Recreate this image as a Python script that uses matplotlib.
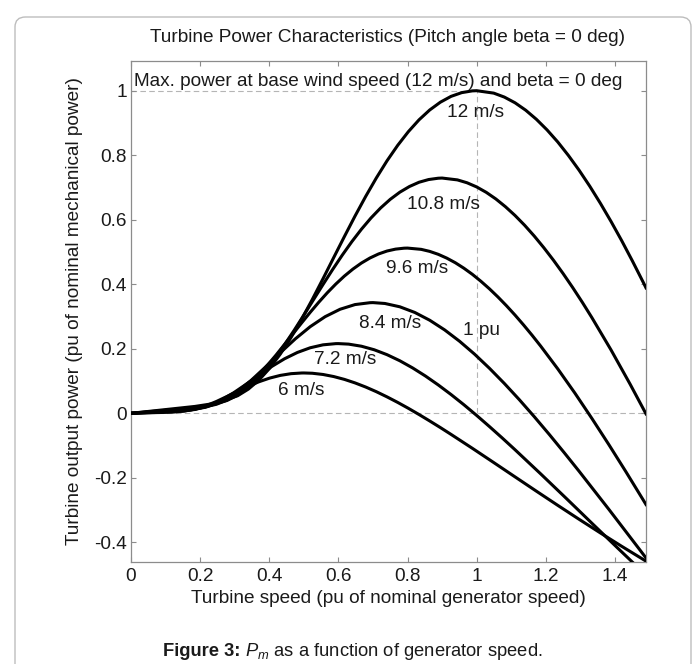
import matplotlib
matplotlib.use("Agg")
import matplotlib.pyplot as plt
from matplotlib.patches import FancyBboxPatch

plt.rcParams['font.family'] = ['Liberation Sans', 'DejaVu Sans']
plt.rcParams['axes.unicode_minus'] = False
plt.rcParams['mathtext.fontset'] = 'custom'
plt.rcParams['mathtext.rm'] = 'Liberation Sans'
plt.rcParams['mathtext.it'] = 'Liberation Sans:italic'
plt.rcParams['mathtext.bf'] = 'Liberation Sans:bold'

# ---- data (turbine speed in pu, output power in pu) ----
w_12 = [0, 0.0617, 0.1235, 0.1852, 0.2469, 0.3086, 0.3395, 0.3704, 0.4012, 0.4321,
        0.4630, 0.4938, 0.5247, 0.5556, 0.5864, 0.6173, 0.6481, 0.6790, 0.7099, 0.7407,
        0.7716, 0.8025, 0.8333, 0.8642, 0.8951, 0.9259, 0.9568, 0.9877, 1.0, 1.0494,
        1.0802, 1.1111, 1.1420, 1.1728, 1.2037, 1.2346, 1.2654, 1.2963, 1.3272, 1.3580,
        1.3889, 1.4198, 1.4506, 1.4815, 1.49]
p_12 = [0, 0.0071, 0.0142, 0.0213, 0.0314, 0.0544, 0.0749, 0.1032, 0.1396, 0.1838,
        0.2350, 0.2920, 0.3532, 0.4173, 0.4826, 0.5477, 0.6113, 0.6723, 0.7297, 0.7827,
        0.8306, 0.8731, 0.9097, 0.9402, 0.9644, 0.9824, 0.9940, 0.9995, 1.0, 0.9925,
        0.9802, 0.9625, 0.9395, 0.9114, 0.8785, 0.8412, 0.7994, 0.7537, 0.7041, 0.6510,
        0.5945, 0.5349, 0.4723, 0.4071, 0.3887]

w_108 = [0, 0.0556, 0.1111, 0.1667, 0.2222, 0.2778, 0.3056, 0.3333, 0.3611, 0.3889,
         0.4167, 0.4444, 0.4722, 0.5, 0.5278, 0.5556, 0.5833, 0.6111, 0.6389, 0.6667,
         0.6944, 0.7222, 0.75, 0.7778, 0.8056, 0.8333, 0.8611, 0.8889, 0.9, 0.9444,
         0.9722, 1.0, 1.0278, 1.0556, 1.0833, 1.1111, 1.1389, 1.1667, 1.1944, 1.2222,
         1.25, 1.2778, 1.3056, 1.3333, 1.3889, 1.4444, 1.49]
p_108 = [0, 0.0052, 0.0103, 0.0155, 0.0229, 0.0396, 0.0546, 0.0753, 0.1018, 0.1340,
         0.1713, 0.2129, 0.2575, 0.3042, 0.3518, 0.3993, 0.4456, 0.4901, 0.5320, 0.5706,
         0.6055, 0.6365, 0.6632, 0.6854, 0.7030, 0.7162, 0.7246, 0.7287, 0.7292, 0.7235,
         0.7146, 0.7017, 0.6849, 0.6644, 0.6404, 0.6132, 0.5828, 0.5494, 0.5133, 0.4746,
         0.4334, 0.3899, 0.3443, 0.2968, 0.1963, 0.0896, -0.0018]

w_96 = [0, 0.0494, 0.0988, 0.1481, 0.1975, 0.2469, 0.2716, 0.2963, 0.3210, 0.3457,
        0.3704, 0.3951, 0.4198, 0.4444, 0.4691, 0.4938, 0.5185, 0.5432, 0.5679, 0.5926,
        0.6173, 0.6420, 0.6667, 0.6914, 0.7160, 0.7407, 0.7654, 0.7901, 0.8, 0.8395,
        0.8642, 0.8889, 0.9136, 0.9383, 0.9630, 0.9877, 1.0123, 1.0370, 1.0617, 1.0864,
        1.1111, 1.1358, 1.1605, 1.1852, 1.2346, 1.2840, 1.3333, 1.3827, 1.4321, 1.4815,
        1.49]
p_96 = [0, 0.0036, 0.0073, 0.0109, 0.0161, 0.0278, 0.0383, 0.0529, 0.0715, 0.0941,
        0.1203, 0.1495, 0.1808, 0.2137, 0.2471, 0.2804, 0.3130, 0.3442, 0.3736, 0.4007,
        0.4253, 0.4470, 0.4658, 0.4814, 0.4938, 0.5030, 0.5089, 0.5118, 0.5121, 0.5082,
        0.5019, 0.4928, 0.4810, 0.4667, 0.4498, 0.4307, 0.4093, 0.3859, 0.3605, 0.3333,
        0.3044, 0.2738, 0.2418, 0.2084, 0.1379, 0.0630, -0.0157, -0.0974, -0.1816, -0.2679,
        -0.2829]

w_84 = [0, 0.0432, 0.0864, 0.1296, 0.1728, 0.2160, 0.2593, 0.3025, 0.3457, 0.3889,
        0.4321, 0.4753, 0.5185, 0.5617, 0.6049, 0.6481, 0.6914, 0.7, 0.7346, 0.7778,
        0.8210, 0.8642, 0.9074, 0.9506, 0.9938, 1.0370, 1.0802, 1.1235, 1.1667, 1.2099,
        1.2531, 1.2963, 1.3827, 1.4691, 1.49]
p_84 = [0, 0.0024, 0.0049, 0.0073, 0.0108, 0.0187, 0.0354, 0.0631, 0.1002, 0.1431,
        0.1879, 0.2306, 0.2685, 0.2995, 0.3225, 0.3370, 0.3428, 0.3431, 0.3404, 0.3301,
        0.3126, 0.2885, 0.2585, 0.2233, 0.1835, 0.1396, 0.0924, 0.0422, -0.0105, -0.0652,
        -0.1217, -0.1795, -0.2980, -0.4190, -0.4484]

w_72 = [0, 0.0370, 0.0741, 0.1111, 0.1481, 0.1852, 0.2222, 0.2593, 0.2963, 0.3333,
        0.3704, 0.4074, 0.4444, 0.4815, 0.5185, 0.5556, 0.5926, 0.6, 0.6296, 0.6667,
        0.7037, 0.7407, 0.7778, 0.8148, 0.8519, 0.8889, 0.9259, 0.9630, 1.0, 1.0370,
        1.0741, 1.1111, 1.1852, 1.2593, 1.3333, 1.4074, 1.4815, 1.49]
p_72 = [0, 0.0015, 0.0031, 0.0046, 0.0068, 0.0118, 0.0223, 0.0397, 0.0631, 0.0901,
        0.1183, 0.1452, 0.1691, 0.1886, 0.2031, 0.2122, 0.2159, 0.2160, 0.2144, 0.2079,
        0.1969, 0.1817, 0.1628, 0.1406, 0.1155, 0.0879, 0.0582, 0.0266, -0.0066, -0.0411,
        -0.0766, -0.1130, -0.1877, -0.2638, -0.3406, -0.4171, -0.4929, -0.5016]

w_6 = [0, 0.0309, 0.0617, 0.0926, 0.1235, 0.1543, 0.1852, 0.2160, 0.2469, 0.2778,
       0.3086, 0.3395, 0.3704, 0.4012, 0.4321, 0.4630, 0.4938, 0.5, 0.5247, 0.5556,
       0.5864, 0.6173, 0.6481, 0.6790, 0.7099, 0.7407, 0.7716, 0.8025, 0.8333, 0.8642,
       0.8951, 0.9259, 0.9877, 1.0494, 1.1111, 1.1728, 1.2346, 1.2963, 1.3580, 1.4198,
       1.4815, 1.49]
p_6 = [0, 0.0009, 0.0018, 0.0027, 0.0039, 0.0068, 0.0129, 0.0230, 0.0365, 0.0522,
       0.0685, 0.0840, 0.0978, 0.1091, 0.1175, 0.1228, 0.1249, 0.1250, 0.1241, 0.1203,
       0.1139, 0.1051, 0.0942, 0.0814, 0.0669, 0.0509, 0.0337, 0.0154, -0.0038, -0.0238,
       -0.0443, -0.0654, -0.1086, -0.1527, -0.1971, -0.2414, -0.2853, -0.3285, -0.3709, -0.4124,
       -0.4528, -0.4583]

curve_labels = ["12 m/s", "10.8 m/s", "9.6 m/s", "8.4 m/s", "7.2 m/s", "6 m/s"]
label_x = [0.997, 0.905, 0.827, 0.749, 0.620, 0.493]
label_y = [0.932, 0.648, 0.450, 0.279, 0.167, 0.072]

x_ticks = [0, 0.2, 0.4, 0.6, 0.8, 1.0, 1.2, 1.4]
x_ticklabels = ["0", "0.2", "0.4", "0.6", "0.8", "1", "1.2", "1.4"]
y_ticks = [-0.4, -0.2, 0, 0.2, 0.4, 0.6, 0.8, 1.0]
y_ticklabels = ["-0.4", "-0.2", "0", "0.2", "0.4", "0.6", "0.8", "1"]

W, H = 699, 664
fig = plt.figure(figsize=(W / 100, H / 100), dpi=100)
fig.patch.set_facecolor('white')

# rounded outer border (open at bottom)
border = FancyBboxPatch((15 / W, -0.05), (691 - 15) / W, (1 - 17 / H) + 0.05,
                        boxstyle="round,pad=0,rounding_size=0.015",
                        transform=fig.transFigure, fill=False,
                        edgecolor='#bdbdbd', linewidth=1.0)
fig.add_artist(border)

ax = fig.add_axes([131 / W, 1 - 562 / H, (646 - 131) / W, (562 - 60.7) / H])

txt = '#1a1a1a'
fs = 13.7
grey = '#b5b5b5'

# reference dashed lines
ax.plot([0, 1.49], [0, 0], color=grey, lw=0.8, ls=(0, (5, 3)), zorder=1)
ax.plot([0, 1.0], [1.0, 1.0], color=grey, lw=0.8, ls=(0, (5, 3)), zorder=1)
ax.plot([1.0, 1.0], [0, 1.0], color=grey, lw=0.8, ls=(0, (5, 3)), zorder=1)

for w, p in [(w_12, p_12), (w_108, p_108), (w_96, p_96),
             (w_84, p_84), (w_72, p_72), (w_6, p_6)]:
    ax.plot(w, p, color='black', lw=2.2, solid_joinstyle='round', zorder=3)

for lab, lx, ly in zip(curve_labels, label_x, label_y):
    ax.text(lx, ly, lab, ha='center', va='center', fontsize=fs, color=txt, zorder=4)

ax.text(1.014, 0.258, "1 pu", ha='center', va='center', fontsize=fs, color=txt, zorder=4)
ax.text(0.009, 1.030, "Max. power at base wind speed (12 m/s) and beta = 0 deg",
        ha='left', va='center', fontsize=fs, color=txt, zorder=4)

ax.set_xlim(0, 1.49)
ax.set_ylim(-0.461, 1.093)
ax.set_xticks(x_ticks)
ax.set_xticklabels(x_ticklabels)
ax.set_yticks(y_ticks)
ax.set_yticklabels(y_ticklabels)
ax.tick_params(direction='in', top=True, right=True, length=3.5, width=0.8,
               color='#8c8c8c', labelsize=fs, labelcolor=txt)
ax.tick_params(axis='x', pad=4)
ax.tick_params(axis='y', pad=3)
for s in ax.spines.values():
    s.set_color('#8c8c8c')
    s.set_linewidth(0.9)

fig.text(388 / W, 1 - 37 / H, "Turbine Power Characteristics (Pitch angle beta = 0 deg)",
         ha='center', va='center', fontsize=fs, color=txt)
fig.text(388 / W, 1 - 598.5 / H, "Turbine speed (pu of nominal generator speed)",
         ha='center', va='center', fontsize=fs, color=txt)
fig.text(75 / W, 1 - 311 / H, "Turbine output power (pu of nominal mechanical power)",
         ha='center', va='center', rotation=90, fontsize=fs, color=txt)

# caption: bold part + rest, centred together
cap_y = 1 - 651 / H
cap_fs = 13.2
t1 = fig.text(0, cap_y, "Figure 3:", ha='left', va='baseline', fontsize=cap_fs,
              fontweight='bold', color=txt)
t2 = fig.text(0, cap_y, r" $P_m$ as a function of generator speed.", ha='left',
              va='baseline', fontsize=cap_fs, color=txt)
fig.canvas.draw()
r = fig.canvas.get_renderer()
w1 = t1.get_window_extent(r).width
w2 = t2.get_window_extent(r).width
x0 = 353 - (w1 + w2) / 2
base = 1 - 656 / H
t1.set_position((x0 / W, base))
t2.set_position(((x0 + w1) / W, base))

fig.savefig("out.png", dpi=100)
